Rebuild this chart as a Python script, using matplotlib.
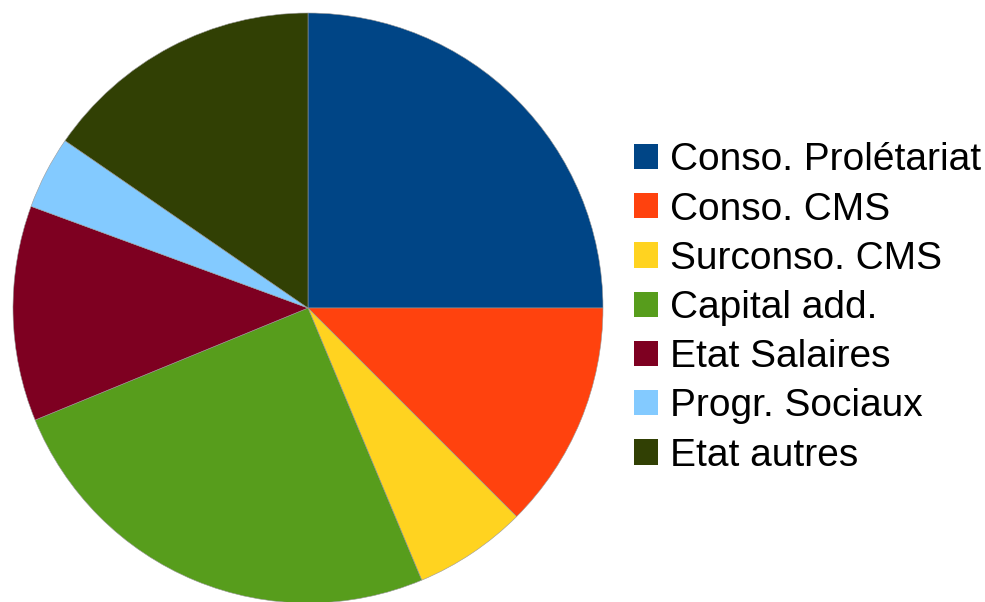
import matplotlib
matplotlib.use("Agg")
import matplotlib.pyplot as plt
from matplotlib.patches import Patch

labels = ["Conso. Prolétariat", "Conso. CMS", "Surconso. CMS", "Capital add.",
          "Etat Salaires", "Progr. Sociaux", "Etat autres"]
values = [25.0, 12.5, 6.2, 25.1, 11.8, 4.0, 15.4]
colors = ["#004586", "#ff420e", "#ffd320", "#579d1c", "#7e0021", "#83caff", "#314004"]

plt.rcParams['font.family'] = ['Liberation Sans', 'DejaVu Sans']
fig = plt.figure(figsize=(9.85, 6.02), dpi=100)
W, H = 985, 602
cx, cy, r = 308, 308, 295
ax = fig.add_axes([(cx - r) / W, 1 - (cy + r) / H, 2 * r / W, 2 * r / H])
ax.pie(values, colors=colors, startangle=90, counterclock=False,
       wedgeprops=dict(linewidth=0.4, edgecolor="#999999"))
ax.set_aspect('equal')
ax.set_xlim(-1, 1)
ax.set_ylim(-1, 1)
ax.axis('off')

handles = [Patch(facecolor=c, edgecolor='none', label=l) for c, l in zip(colors, labels)]
fig.legend(handles=handles, loc='center left', bbox_to_anchor=(634 / W, 1 - 308 / H),
           frameon=False, fontsize=28, handlelength=0.62, handleheight=0.62,
           handletextpad=0.3, labelspacing=0.34, borderaxespad=0, borderpad=0)
fig.savefig("out.png", dpi=100)
